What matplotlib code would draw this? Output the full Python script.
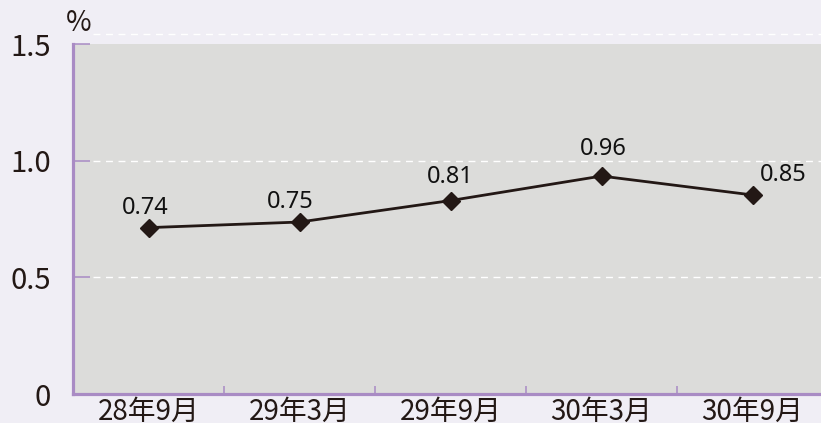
import numpy as np
import matplotlib.pyplot as plt

# data
periods = ['28年9月', '29年3月', '29年9月', '30年3月', '30年9月']
values = [0.713, 0.737, 0.829, 0.934, 0.853]      # where the markers sit
value_labels = ['0.74', '0.75', '0.81', '0.96', '0.85']
y_ticks = [0, 0.5, 1.0, 1.5]
y_tick_labels = ['0', '0.5', '1.0', '1.5']

# label nudges (points) so the text sits where it does in the original
label_offsets = [(-2, 10), (-7, 10), (0, 13), (1, 15), (22, 10)]

BG = '#f0eef5'
PLOT_BG = '#dcdcda'
PURPLE = '#a98bc4'
LINE = '#231815'
TXT = '#231815'
JP = ['Noto Sans CJK JP', 'DejaVu Sans']

fig = plt.figure(figsize=(8.21, 4.23), dpi=100, facecolor=BG)
ax = fig.add_axes([73 / 821, 29 / 423, 755 / 821, 350 / 423])
ax.set_facecolor(PLOT_BG)

x = np.arange(len(periods))
ax.set_xlim(-0.5, len(periods) - 0.5)
ax.set_ylim(0, 1.5)

# dashed white grid
for yv in y_ticks[1:-1]:
    ax.axhline(yv, xmin=0.027, xmax=1, color='white', lw=1,
               ls=(0, (5, 4)), zorder=1)
ax.plot([0.027, 1], [1.028, 1.028], transform=ax.transAxes, color='white',
        lw=1, ls=(0, (5, 4)), clip_on=False, zorder=1)

ax.plot(x, values, color=LINE, lw=2, marker='D', markersize=9.5,
        markerfacecolor=LINE, markeredgecolor=LINE, zorder=3)

for xi, v, lab, off in zip(x, values, value_labels, label_offsets):
    ax.annotate(lab, (xi, v), xytext=off, textcoords='offset points',
                ha='center', va='baseline', fontsize=17,
                family=['Noto Sans', 'DejaVu Sans'], color='#111111')

# spines
for s in ['top', 'right']:
    ax.spines[s].set_visible(False)
for s in ['left', 'bottom']:
    ax.spines[s].set_color(PURPLE)
    ax.spines[s].set_linewidth(2.3)

# y axis
ax.set_yticks(y_ticks)
ax.set_yticklabels(y_tick_labels, family=JP, fontsize=21, color=TXT)
ax.tick_params(axis='y', direction='in', length=12.5, width=1.1,
               color=PURPLE, pad=16)

# x axis: labels centred on categories, tick marks between them
ax.set_xticks(x)
ax.set_xticklabels(periods, family=JP, fontsize=20, color=TXT)
ax.tick_params(axis='x', which='major', length=0, pad=2)
ax.set_xticks(x[:-1] + 0.5, minor=True)
ax.tick_params(axis='x', which='minor', direction='in', length=6,
               width=1.1, color=PURPLE)

ax.text(-0.01, 1.036, '%', transform=ax.transAxes, family=JP,
        fontsize=20, color=TXT, ha='left', va='baseline')

plt.savefig('out.png', dpi=100, facecolor=BG)
